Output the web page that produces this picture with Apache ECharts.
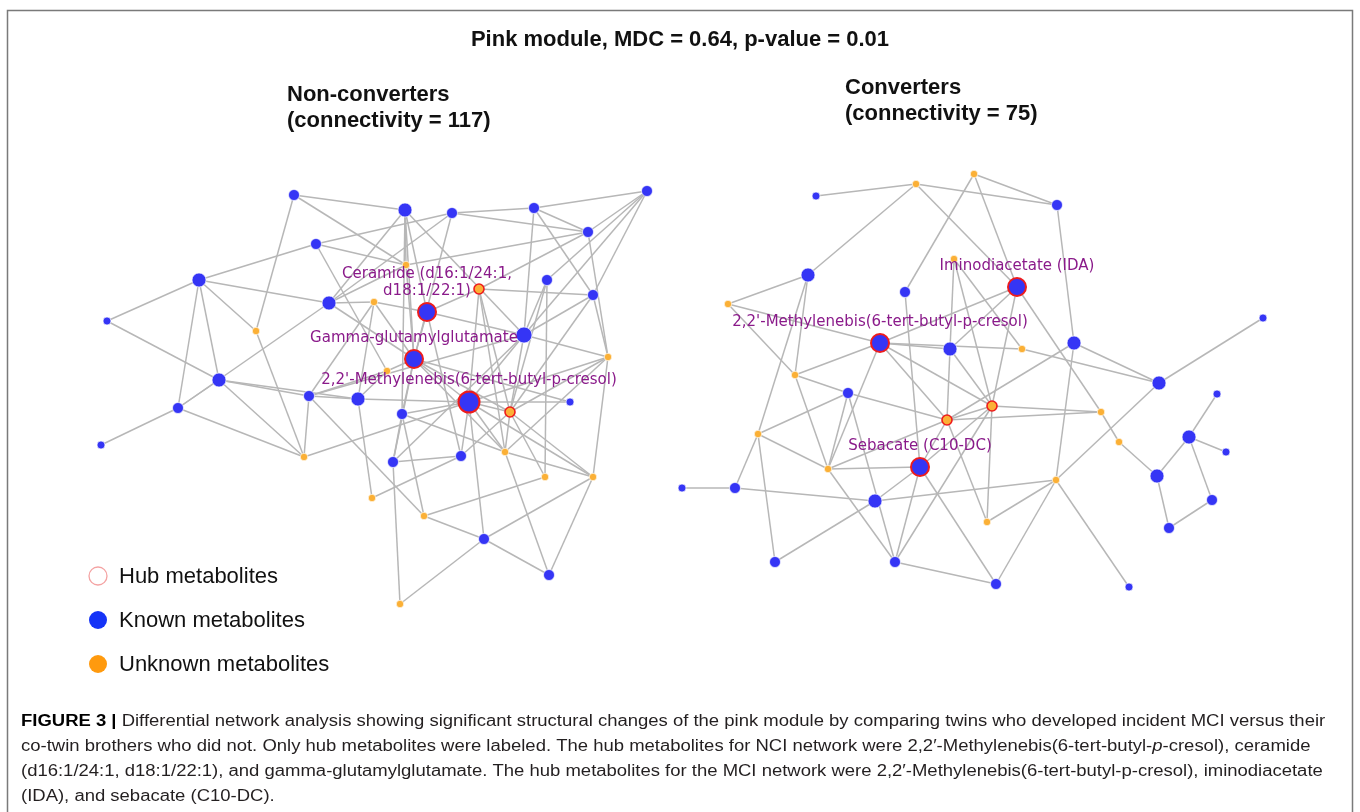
<!DOCTYPE html>
<html><head><meta charset="utf-8">
<script src="https://cdn.jsdelivr.net/npm/echarts/dist/echarts.min.js"></script>
<style>html,body{margin:0;padding:0;background:#fff}#c{width:1360px;height:812px}</style>
</head><body><div id="c"></div>
<script>
// ---- data: node positions (page px) and kinds: k=known (s/m/l/x size class), u=unknown, h/H=hub, hu=unknown hub
const leftNodes = [
 [294,195,'ks'],[405,210,'km'],[452,213,'ks'],[534,208,'ks'],[647,191,'ks'],
 [588,232,'ks'],[316,244,'ks'],[199,280,'km'],[107,321,'kx'],[256,331,'u'],
 [329,303,'km'],[374,302,'u'],[406,265,'u'],[479,289,'hu'],[547,280,'ks'],
 [593,295,'ks'],[427,312,'h'],[524,335,'kl'],[608,357,'u'],[414,359,'h'],
 [387,371,'u'],[219,380,'km'],[178,408,'ks'],[101,445,'kx'],[309,396,'ks'],
 [358,399,'km'],[469,402,'H'],[510,412,'hu'],[570,402,'kx'],[402,414,'ks'],
 [304,457,'u'],[393,462,'ks'],[461,456,'ks'],[505,452,'u'],[545,477,'u'],
 [593,477,'u'],[372,498,'u'],[424,516,'u'],[484,539,'ks'],[549,575,'ks'],
 [400,604,'u']
];
const leftLabels = [
 [16,'Ceramide (d16:1/24:1,\nd18:1/22:1)'],
 [19,'Gamma-glutamylglutamate'],
 [26,"2,2'-Methylenebis(6-tert-butyl-p-cresol)"]
];
const leftEdges = [
 [0,1],[0,12],[0,9],
 [1,12],[1,16],[1,19],[1,17],[1,10],[1,29],
 [6,2],[6,12],[6,7],[6,20],
 [2,3],[2,5],[2,10],[2,19],
 [3,4],[3,5],[3,17],[3,15],
 [4,5],[4,14],[4,15],[4,17],
 [5,13],[5,12],[5,18],
 [7,8],[7,10],[7,9],[7,21],[7,22],
 [8,21],[9,30],
 [10,11],[10,19],[10,22],[10,12],
 [11,24],[11,25],[11,19],[11,16],
 [12,19],
 [13,15],[13,16],[13,26],[13,27],[13,33],
 [14,34],[14,17],[14,27],
 [15,17],[15,18],[15,27],
 [16,17],[16,19],[16,32],
 [17,26],[17,27],[17,31],[17,18],[17,24],
 [18,26],[18,27],[18,33],[18,35],
 [19,26],[19,27],[19,29],[19,20],[19,31],[19,33],[19,28],
 [20,25],[20,24],
 [21,22],[21,24],[21,25],[21,30],
 [22,23],[22,30],
 [24,30],[24,37],[24,25],
 [25,26],[25,36],
 [26,38],[26,29],[26,32],[26,33],[26,35],[26,27],[26,30],[26,28],
 [27,35],[27,32],[27,33],[27,34],
 [29,31],[29,37],[29,33],
 [31,32],[31,40],[32,36],
 [33,35],[33,39],[34,37],
 [35,38],[35,39],[37,38],
 [38,39],[38,40]
];
const rightNodes = [
 [816,196,'kx'],[916,184,'u'],[974,174,'u'],[954,259,'u'],[808,275,'km'],
 [905,292,'ks'],[728,304,'u'],[880,343,'h'],[950,349,'km'],[795,375,'u'],
 [848,393,'ks'],[947,420,'hu'],[992,406,'hu'],[1057,205,'ks'],[1017,287,'h'],
 [1022,349,'u'],[1074,343,'km'],[1263,318,'kx'],[1159,383,'km'],[1217,394,'kx'],
 [1101,412,'u'],[758,434,'u'],[828,469,'u'],[920,467,'h'],[682,488,'kx'],
 [735,488,'ks'],[875,501,'km'],[987,522,'u'],[775,562,'ks'],[895,562,'ks'],
 [996,584,'ks'],[1119,442,'u'],[1189,437,'km'],[1226,452,'kx'],[1157,476,'km'],
 [1056,480,'u'],[1212,500,'ks'],[1169,528,'ks'],[1129,587,'kx']
];
const rightLabels = [
 [14,'Iminodiacetate (IDA)'],
 [7,"2,2'-Methylenebis(6-tert-butyl-p-cresol)"],
 [23,'Sebacate (C10-DC)']
];
const rightEdges = [
 [0,1],[1,4],[1,13],[1,14],
 [2,13],[2,5],[2,14],
 [3,8],[3,12],[3,15],
 [4,6],[4,9],[4,21],
 [6,7],[6,9],
 [9,7],[9,10],[9,22],
 [7,8],[7,15],[7,14],[7,22],[7,11],[7,12],
 [5,23],
 [14,8],[14,12],[14,20],
 [13,16],[16,18],[16,11],[16,35],
 [15,18],[17,18],[18,35],
 [8,12],[8,11],
 [10,11],[10,22],[10,21],[10,29],
 [21,22],[21,25],[21,28],
 [22,23],[22,29],[22,11],
 [23,26],[23,29],[23,30],[23,11],[23,12],
 [24,25],[25,26],
 [26,28],[26,35],
 [29,30],
 [27,35],[27,11],[27,12],
 [35,30],[35,38],
 [20,11],[20,12],[20,31],
 [31,34],[34,32],[34,37],
 [32,19],[32,33],[32,36],[36,37],
 [12,11],[12,29]
];
const titleText = 'Pink module, MDC = 0.64, p-value = 0.01';
const panelTitles = [['Non-converters','(connectivity = 117)'],['Converters','(connectivity = 75)']];
const legendItems = ['Hub metabolites','Known metabolites','Unknown metabolites'];

// ---- styling
const BLUE = '#3535f5', ORANGE = '#fbb036', RED = '#ee1c1c';
function styleFor(k){
  switch(k){
    case 'kx': return {size:8, color:BLUE};
    case 'ks': return {size:11, color:BLUE};
    case 'km': return {size:14, color:BLUE};
    case 'kl': return {size:16, color:BLUE};
    case 'u':  return {size:7.5, color:ORANGE};
    case 'h':  return {size:18, color:BLUE, border:RED, bw:2};
    case 'H':  return {size:21, color:BLUE, border:RED, bw:2};
    case 'hu': return {size:10, color:ORANGE, border:RED, bw:1.6};
  }
}
function buildSeries(prefix, nodes, edges, labels){
  const lab = {}; labels.forEach(l=>lab[l[0]]=l[1]);
  const data = nodes.map((n,i)=>{
    const s = styleFor(n[2]);
    const d = {
      name: prefix+i, value:[n[0],n[1]], symbolSize:s.size,
      itemStyle:{color:s.color, borderColor: s.border||'rgba(255,255,255,0.85)', borderWidth: s.bw||0.8}
    };
    if (lab[i] !== undefined){
      d.label = {show:true, position:'top', distance:2, formatter: lab[i],
        color:'#8a1a8a', fontSize:15, fontFamily:'DejaVu Sans', lineHeight:17, align:'center'};
    }
    return d;
  });
  return {
    type:'graph', coordinateSystem:'cartesian2d', symbol:'circle',
    data, links: edges.map(e=>({source:e[0], target:e[1]})),
    lineStyle:{color:'#b7b7b7', width:1.5, opacity:1, curveness:0},
    label:{show:false}, emphasis:{disabled:true}, silent:true, z:3
  };
}

const chart = echarts.init(document.getElementById('c'), null, {renderer:'canvas'});
const capRich = {
  n:{fontSize:16, fontFamily:'Liberation Sans', fill:'#231f20'},
  b:{fontSize:16, fontFamily:'Liberation Sans', fontWeight:'bold', fill:'#000'},
  i:{fontSize:16, fontFamily:'Liberation Sans', fontStyle:'italic', fill:'#231f20'}
};
const cap = (x,y,txt)=>({type:'text', x, y, scaleX:1.155, style:{text:txt, rich:capRich, verticalAlign:'middle'}});

const graphics = [
  {type:'rect', shape:{x:7.5, y:10.5, width:1345, height:830}, style:{fill:'none', stroke:'#7a7a7a', lineWidth:1.5}, z:0},
  {type:'text', x:680, y:40, style:{text:titleText, font:'bold 22px "Liberation Sans"', fill:'#111', align:'center', verticalAlign:'middle'}},
  {type:'text', x:287, y:95, style:{text:panelTitles[0][0], font:'bold 22px "Liberation Sans"', fill:'#111', verticalAlign:'middle'}},
  {type:'text', x:287, y:121, style:{text:panelTitles[0][1], font:'bold 22px "Liberation Sans"', fill:'#111', verticalAlign:'middle'}},
  {type:'text', x:845, y:88, style:{text:panelTitles[1][0], font:'bold 22px "Liberation Sans"', fill:'#111', verticalAlign:'middle'}},
  {type:'text', x:845, y:114, style:{text:panelTitles[1][1], font:'bold 22px "Liberation Sans"', fill:'#111', verticalAlign:'middle'}},
  {type:'circle', shape:{cx:98, cy:576, r:9}, style:{fill:'#fff', stroke:'#f4a3a3', lineWidth:1.3}},
  {type:'circle', shape:{cx:98, cy:620, r:9}, style:{fill:'#1533f7'}},
  {type:'circle', shape:{cx:98, cy:664, r:9}, style:{fill:'#ff9a0e'}},
  {type:'text', x:119, y:577, style:{text:legendItems[0], font:'22px "Liberation Sans"', fill:'#111', verticalAlign:'middle'}},
  {type:'text', x:119, y:621, style:{text:legendItems[1], font:'22px "Liberation Sans"', fill:'#111', verticalAlign:'middle'}},
  {type:'text', x:119, y:665, style:{text:legendItems[2], font:'22px "Liberation Sans"', fill:'#111', verticalAlign:'middle'}},
  cap(21,722,'{b|FIGURE 3 |}{n| Differential network analysis showing significant structural changes of the pink module by comparing twins who developed incident MCI versus their}'),
  cap(21,747,'{n|co-twin brothers who did not. Only hub metabolites were labeled. The hub metabolites for NCI network were 2,2′-Methylenebis(6-tert-butyl-}{i|p}{n|-cresol), ceramide}'),
  cap(21,772,'{n|(d16:1/24:1, d18:1/22:1), and gamma-glutamylglutamate. The hub metabolites for the MCI network were 2,2′-Methylenebis(6-tert-butyl-p-cresol), iminodiacetate}'),
  cap(21,797,'{n|(IDA), and sebacate (C10-DC).}')
];

chart.setOption({
  animation:false,
  backgroundColor:'#fff',
  grid:{left:0, right:0, top:0, bottom:0},
  xAxis:{type:'value', min:0, max:1360, show:false},
  yAxis:{type:'value', min:0, max:812, inverse:true, show:false},
  graphic: graphics,
  series:[
    buildSeries('L', leftNodes, leftEdges, leftLabels),
    buildSeries('R', rightNodes, rightEdges, rightLabels)
  ]
});
</script></body></html>
